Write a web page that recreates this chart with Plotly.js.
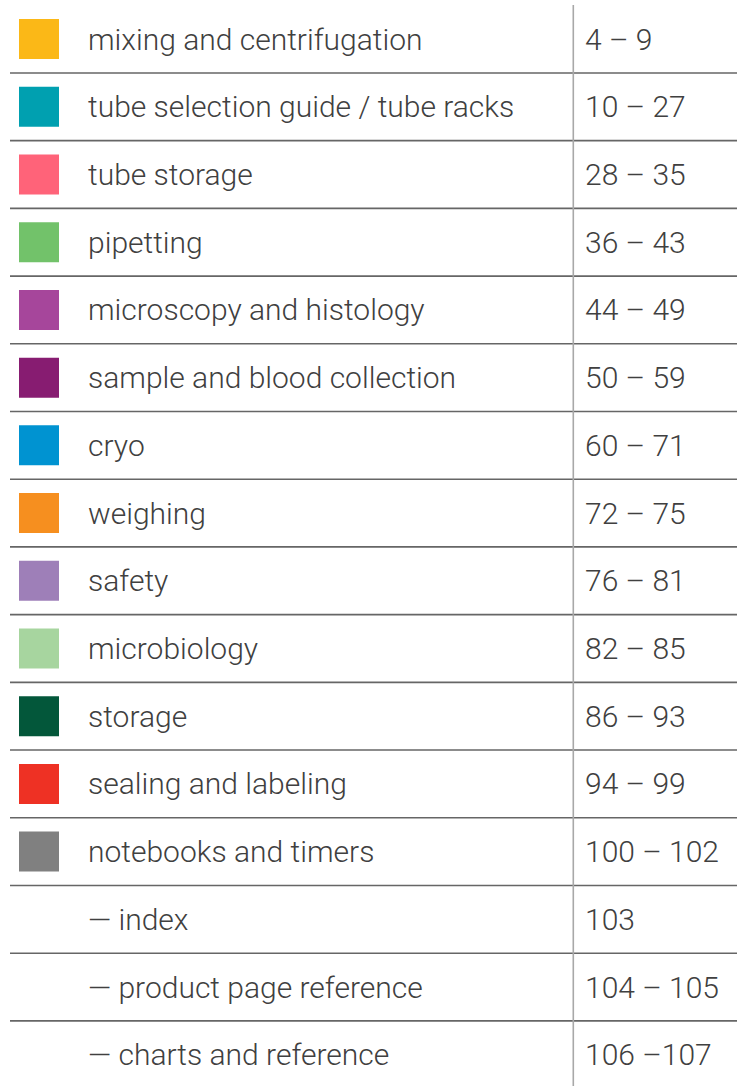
<!DOCTYPE html>
<html>
<head>
<meta charset="utf-8">
<script src="https://cdn.plot.ly/plotly-3.0.1.min.js"></script>
<style>
  html, body { margin: 0; padding: 0; background: #ffffff; }
  #chart { width: 744px; height: 1086px; }
</style>
</head>
<body>
<div id="chart"></div>
<script>
// ---- data ----
const categories = [
  "mixing and centrifugation",
  "tube selection guide / tube racks",
  "tube storage",
  "pipetting",
  "microscopy and histology",
  "sample and blood collection",
  "cryo",
  "weighing",
  "safety",
  "microbiology",
  "storage",
  "sealing and labeling",
  "notebooks and timers",
  "— index",
  "— product page reference",
  "— charts and reference"
];
const pages = [
  "4 – 9", "10 – 27", "28 – 35", "36 – 43", "44 – 49", "50 – 59",
  "60 – 71", "72 – 75", "76 – 81", "82 – 85", "86 – 93", "94 – 99",
  "100 – 102", "103", "104 – 105", "106 –107"
];
const swatchColors = [
  "#FBB817", "#00A0B0", "#FF6379", "#72C26A", "#A6469B", "#871C71",
  "#0093D1", "#F68F1F", "#9E7FB8", "#A7D59F", "#03573A", "#EE3124",
  "#808080", null, null, null
];

// ---- layout constants ----
const W = 744, H = 1086;
const rowPitch = 67.71, row0 = 39.1;
const yTop = -row0 / rowPitch;
const yBot = (H - row0) / rowPitch;
const swX = 39, textX = 86, pageX = 583, divX = 573.3;
const lineX0 = 10, lineX1 = 737;

const rows = categories.map((_, i) => i);
const swRows = rows.filter(i => swatchColors[i]);

const traces = [{
  type: "scatter",
  mode: "markers",
  x: swRows.map(() => swX),
  y: swRows,
  marker: { symbol: "square", size: 40, color: swRows.map(i => swatchColors[i]), line: { width: 0 } },
  hoverinfo: "skip",
  showlegend: false
}];

const font = { family: "Roboto, 'Liberation Sans', sans-serif", size: 30, color: "#404040", weight: 300 };
const annotations = [];
rows.forEach(i => {
  annotations.push({ x: textX, y: i, xref: "x", yref: "y", text: categories[i], showarrow: false,
    xanchor: "left", yanchor: "middle", font: font });
  annotations.push({ x: pageX, y: i, xref: "x", yref: "y", text: pages[i], showarrow: false,
    xanchor: "left", yanchor: "middle", font: font });
});

const shapes = [];
for (let i = 0; i < rows.length - 1; i++) {
  shapes.push({ type: "line", xref: "x", yref: "y", x0: lineX0, x1: lineX1, y0: i + 0.5, y1: i + 0.5,
    line: { color: "#666666", width: 1.6 } });
}
shapes.push({ type: "line", xref: "x", yref: "y", x0: divX, x1: divX, y0: (5 - row0) / rowPitch, y1: yBot,
  line: { color: "#a8a8a8", width: 1.6 } });

const layout = {
  width: W, height: H,
  margin: { l: 0, r: 0, t: 0, b: 0, pad: 0 },
  paper_bgcolor: "#ffffff", plot_bgcolor: "#ffffff",
  xaxis: { range: [0, W], visible: false, fixedrange: true },
  yaxis: { range: [yBot, yTop], visible: false, fixedrange: true },
  shapes: shapes,
  annotations: annotations,
  showlegend: false
};

Plotly.newPlot("chart", traces, layout, { staticPlot: true, displayModeBar: false });
</script>
</body>
</html>
